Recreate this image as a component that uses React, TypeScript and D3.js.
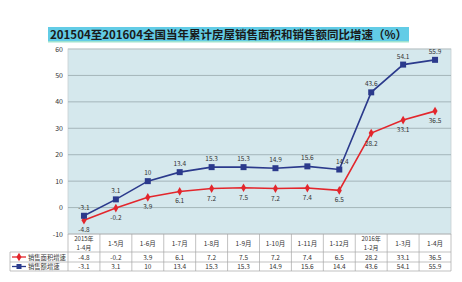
import React from "react";
import * as d3 from "d3";

const categories = ["2015年\n1-4月", "1-5月", "1-6月", "1-7月", "1-8月", "1-9月", "1-10月", "1-11月", "1-12月", "2016年\n1-2月", "1-3月", "1-4月"];
const areaGrowth = [-4.8, -0.2, 3.9, 6.1, 7.2, 7.5, 7.2, 7.4, 6.5, 28.2, 33.1, 36.5];
const salesGrowth = [-3.1, 3.1, 10, 13.4, 15.3, 15.3, 14.9, 15.6, 14.4, 43.6, 54.1, 55.9];
const yTicks = [-10, 0, 10, 20, 30, 40, 50, 60];
const seriesNames = ["销售面积增速", "销售额增速"];
const title = "201504至201604全国当年累计房屋销售面积和销售额同比增速（%）";

const W = 462, H = 282;
const plot = { left: 68, right: 451, top: 49, bottom: 234 };
const FONT = "'Noto Sans CJK SC', 'Noto Sans', sans-serif";
const RED = "#e3262c";
const BLUE = "#2b3a8c";

export default function App() {
  const x = d3.scaleBand<number>().domain(d3.range(categories.length)).range([plot.left, plot.right]);
  const y = d3.scaleLinear().domain([-10, 60]).range([plot.bottom, plot.top]);
  const cx = (i: number) => (x(i) as number) + x.bandwidth() / 2;
  const line = d3.line<number>().x((_, i) => cx(i)).y((d) => y(d));

  const tableTop = plot.bottom;
  const row0 = 252, row1 = 262, row2 = 271;
  const tableLeft = 10;

  const diamond = d3.symbol().type(d3.symbolDiamond).size(22)();

  return (
    <svg width={W} height={H} style={{ position: "absolute", left: 0, top: 0, background: "#fff" }} fontFamily={FONT}>
      {/* title */}
      <rect x={48} y={27} width={361} height={15} fill="#62cce6" />
      <rect x={48} y={41} width={361} height={1.5} fill="#9fe3cf" />
      <text x={50} y={39} fontSize={11.5} fontWeight="bold" fill="#1a1a1a">{title}</text>

      {/* plot area */}
      <rect x={plot.left} y={plot.top} width={plot.right - plot.left} height={plot.bottom - plot.top} fill="#d5e8ed" stroke="#c8d0d2" strokeWidth={0.8} />
      {yTicks.map((t) => (
        <g key={t}>
          {t !== -10 && t !== 60 && (
            <line x1={plot.left} x2={plot.right} y1={y(t)} y2={y(t)} stroke="#9fb0b4" strokeWidth={0.9} />
          )}
          {t === 60 && <line x1={plot.left} x2={plot.right} y1={y(t)} y2={y(t)} stroke="#b8c4c6" strokeWidth={0.9} />}
          <text x={63} y={y(t) + 2.5} fontSize={7} textAnchor="end" fill="#333">{t}</text>
        </g>
      ))}

      {/* lines */}
      <path d={line(areaGrowth) || ""} fill="none" stroke={RED} strokeWidth={1.6} />
      <path d={line(salesGrowth) || ""} fill="none" stroke={BLUE} strokeWidth={1.6} />
      {areaGrowth.map((v, i) => (
        <path key={"r" + i} d={diamond || ""} transform={`translate(${cx(i)},${y(v)})`} fill={RED} />
      ))}
      {salesGrowth.map((v, i) => (
        <rect key={"b" + i} x={cx(i) - 3} y={y(v) - 3} width={6} height={6} fill={BLUE} />
      ))}

      {/* data labels */}
      {salesGrowth.map((v, i) => (
        <text key={"bl" + i} x={cx(i) + (i === 8 ? 3 : 0)} y={y(v) - 6} fontSize={6.5} textAnchor="middle" fill="#333">{v}</text>
      ))}
      {areaGrowth.map((v, i) => (
        <text key={"rl" + i} x={cx(i)} y={y(v) + (i === 9 ? 13 : 12)} fontSize={6.5} textAnchor="middle" fill="#333">{v}</text>
      ))}

      {/* table */}
      <g stroke="#a8a8a8" strokeWidth={0.7}>
        {d3.range(categories.length + 1).map((i) => {
          const xx = i < categories.length ? (x(i) as number) : plot.right;
          return <line key={"v" + i} x1={xx} x2={xx} y1={tableTop} y2={row2} />;
        })}
        <line x1={tableLeft} x2={tableLeft} y1={row0} y2={row2} />
        <line x1={plot.left} x2={plot.right} y1={tableTop} y2={tableTop} />
        <line x1={tableLeft} x2={plot.right} y1={row0} y2={row0} />
        <line x1={tableLeft} x2={plot.right} y1={row1} y2={row1} />
        <line x1={tableLeft} x2={plot.right} y1={row2} y2={row2} />
      </g>
      {categories.map((c, i) => {
        const parts = c.split("\n");
        return parts.length === 2 ? (
          <g key={"c" + i}>
            <text x={cx(i)} y={241} fontSize={6} textAnchor="middle" fill="#333">{parts[0]}</text>
            <text x={cx(i)} y={250} fontSize={6} textAnchor="middle" fill="#333">{parts[1]}</text>
          </g>
        ) : (
          <text key={"c" + i} x={cx(i)} y={246} fontSize={6.5} textAnchor="middle" fill="#333">{c}</text>
        );
      })}
      {areaGrowth.map((v, i) => (
        <text key={"t1" + i} x={cx(i)} y={row1 - 2.2} fontSize={6.5} textAnchor="middle" fill="#333">{v}</text>
      ))}
      {salesGrowth.map((v, i) => (
        <text key={"t2" + i} x={cx(i)} y={row2 - 2.2} fontSize={6.5} textAnchor="middle" fill="#333">{v}</text>
      ))}
      {/* legend keys */}
      <line x1={12} x2={26} y1={(row0 + row1) / 2} y2={(row0 + row1) / 2} stroke={RED} strokeWidth={1.3} />
      <path d={diamond || ""} transform={`translate(19,${(row0 + row1) / 2})`} fill={RED} />
      <text x={28} y={row1 - 2.2} fontSize={6.3} fill="#333">{seriesNames[0]}</text>
      <line x1={12} x2={26} y1={(row1 + row2) / 2} y2={(row1 + row2) / 2} stroke={BLUE} strokeWidth={1.3} />
      <rect x={16.5} y={(row1 + row2) / 2 - 2.5} width={5} height={5} fill={BLUE} />
      <text x={28} y={row2 - 2.2} fontSize={6.3} fill="#333">{seriesNames[1]}</text>
    </svg>
  );
}
